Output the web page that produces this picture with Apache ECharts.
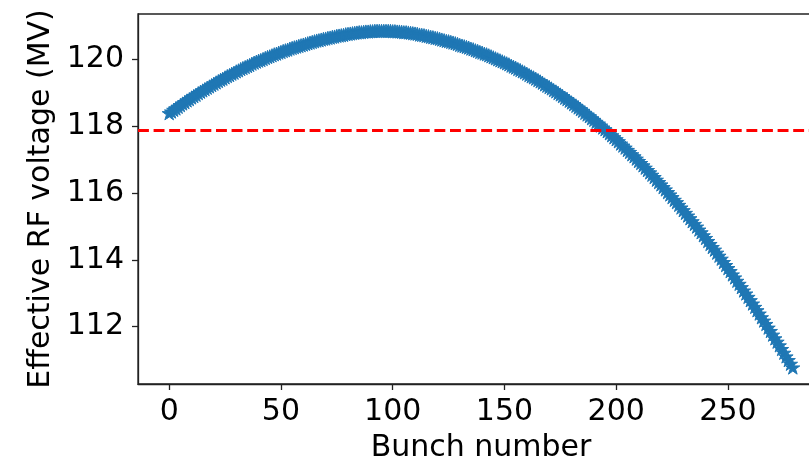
<!DOCTYPE html>
<html>
<head>
<meta charset="utf-8">
<script src="https://cdn.jsdelivr.net/npm/echarts@6/dist/echarts.min.js"></script>
<style>
  html, body { margin: 0; padding: 0; background: #fff; }
  #chart { width: 809px; height: 460px; }
</style>
</head>
<body>
<div id="chart"></div>
<script>
// effective voltage per bunch (index = bunch number)
const voltage = [
  118.38, 118.43, 118.48, 118.52, 118.57, 118.62, 118.67, 118.71, 118.76, 118.80,
  118.85, 118.89, 118.93, 118.98, 119.02, 119.06, 119.10, 119.14, 119.18, 119.22,
  119.26, 119.30, 119.34, 119.38, 119.41, 119.45, 119.49, 119.52, 119.56, 119.59,
  119.63, 119.66, 119.70, 119.73, 119.76, 119.79, 119.82, 119.86, 119.89, 119.92,
  119.95, 119.97, 120.00, 120.03, 120.06, 120.08, 120.11, 120.14, 120.16, 120.19,
  120.21, 120.24, 120.26, 120.28, 120.31, 120.33, 120.35, 120.37, 120.39, 120.41,
  120.43, 120.45, 120.47, 120.49, 120.51, 120.53, 120.55, 120.56, 120.58, 120.60,
  120.61, 120.63, 120.64, 120.66, 120.67, 120.69, 120.70, 120.71, 120.72, 120.74,
  120.75, 120.76, 120.77, 120.78, 120.79, 120.80, 120.80, 120.81, 120.82, 120.82,
  120.83, 120.83, 120.84, 120.84, 120.84, 120.84, 120.84, 120.84, 120.84, 120.84,
  120.83, 120.83, 120.82, 120.82, 120.81, 120.80, 120.80, 120.79, 120.78, 120.77,
  120.76, 120.75, 120.73, 120.72, 120.71, 120.69, 120.68, 120.66, 120.65, 120.63,
  120.62, 120.60, 120.58, 120.56, 120.54, 120.53, 120.51, 120.49, 120.47, 120.45,
  120.42, 120.40, 120.38, 120.36, 120.34, 120.31, 120.29, 120.26, 120.24, 120.21,
  120.19, 120.16, 120.14, 120.11, 120.08, 120.05, 120.02, 119.99, 119.96, 119.93,
  119.90, 119.87, 119.84, 119.80, 119.77, 119.74, 119.70, 119.67, 119.63, 119.60,
  119.56, 119.52, 119.48, 119.45, 119.41, 119.37, 119.33, 119.29, 119.24, 119.20,
  119.16, 119.12, 119.07, 119.03, 118.98, 118.94, 118.89, 118.84, 118.80, 118.75,
  118.70, 118.65, 118.60, 118.55, 118.50, 118.45, 118.39, 118.34, 118.29, 118.23,
  118.18, 118.12, 118.07, 118.01, 117.95, 117.90, 117.84, 117.78, 117.72, 117.66,
  117.60, 117.54, 117.47, 117.41, 117.35, 117.28, 117.22, 117.15, 117.09, 117.02,
  116.95, 116.89, 116.82, 116.75, 116.68, 116.61, 116.54, 116.47, 116.39, 116.32,
  116.25, 116.17, 116.10, 116.02, 115.95, 115.87, 115.79, 115.72, 115.64, 115.56,
  115.48, 115.40, 115.32, 115.24, 115.15, 115.07, 114.99, 114.90, 114.82, 114.73,
  114.65, 114.56, 114.47, 114.38, 114.30, 114.21, 114.12, 114.03, 113.93, 113.84,
  113.75, 113.66, 113.56, 113.47, 113.37, 113.28, 113.18, 113.08, 112.99, 112.89,
  112.79, 112.69, 112.59, 112.49, 112.39, 112.28, 112.18, 112.08, 111.97, 111.87,
  111.76, 111.65, 111.55, 111.44, 111.33, 111.22, 111.11, 111.00, 110.89, 110.78
]
// mean voltage (red dashed line)
const meanVoltage = 117.86
const xTicks = [0, 50, 100, 150, 200, 250]
const yTicks = [112, 114, 116, 118, 120]

const starPath = 'path://M0,-1L0.2245,-0.309L0.9511,-0.309L0.3633,0.118L0.5878,0.809L0,0.382L-0.5878,0.809L-0.3633,0.118L-0.9511,-0.309L-0.2245,-0.309Z'
const font = 'DejaVu Sans'
const blue = '#1f77b4'
const axisColor = '#222'

const chart = echarts.init(document.getElementById('chart'))
const option = {
  animation: false,
  textStyle: { fontFamily: font },
  grid: {
    left: 138, top: 14, width: 686, height: 370,
    outerBoundsMode: 'none',
    containLabel: false,
    show: true, borderColor: axisColor, borderWidth: 1.3
  },
  xAxis: {
    type: 'value',
    min: -13.95, max: 292.95,
    name: 'Bunch number',
    nameLocation: 'middle',
    nameGap: 49,
    nameTextStyle: { fontSize: 30, color: '#000', fontFamily: font },
    axisLine: { show: true, onZero: false, lineStyle: { color: axisColor, width: 1.3 } },
    axisTick: { show: true, customValues: xTicks, length: 6, lineStyle: { color: axisColor, width: 1.3 } },
    axisLabel: { customValues: xTicks, fontSize: 30, color: '#000', margin: 13, fontFamily: font },
    splitLine: { show: false }
  },
  yAxis: {
    type: 'value',
    min: 110.287, max: 121.345,
    name: 'Effective RF voltage (MV)',
    nameLocation: 'middle',
    nameGap: 82,
    nameTextStyle: { fontSize: 30, color: '#000', fontFamily: font },
    axisLine: { show: true, onZero: false, lineStyle: { color: axisColor, width: 1.3 } },
    axisTick: { show: true, customValues: yTicks, length: 6, lineStyle: { color: axisColor, width: 1.3 } },
    axisLabel: { customValues: yTicks, fontSize: 30, color: '#000', margin: 14, fontFamily: font },
    splitLine: { show: false }
  },
  series: [
    {
      type: 'scatter',
      data: voltage.map((v, i) => [i, v]),
      symbol: starPath,
      symbolKeepAspect: true,
      symbolSize: 14,
      itemStyle: { color: blue, borderColor: blue, borderWidth: 1, opacity: 1 },
      markLine: {
        silent: true,
        symbol: ['none', 'none'],
        label: { show: false },
        lineStyle: { color: '#ff0000', type: [10.9, 4.7], width: 3 },
        data: [[{ coord: [-13.95, meanVoltage] }, { coord: [292.95, meanVoltage] }]]
      }
    }
  ]
}
chart.setOption(option)
</script>
</body>
</html>
